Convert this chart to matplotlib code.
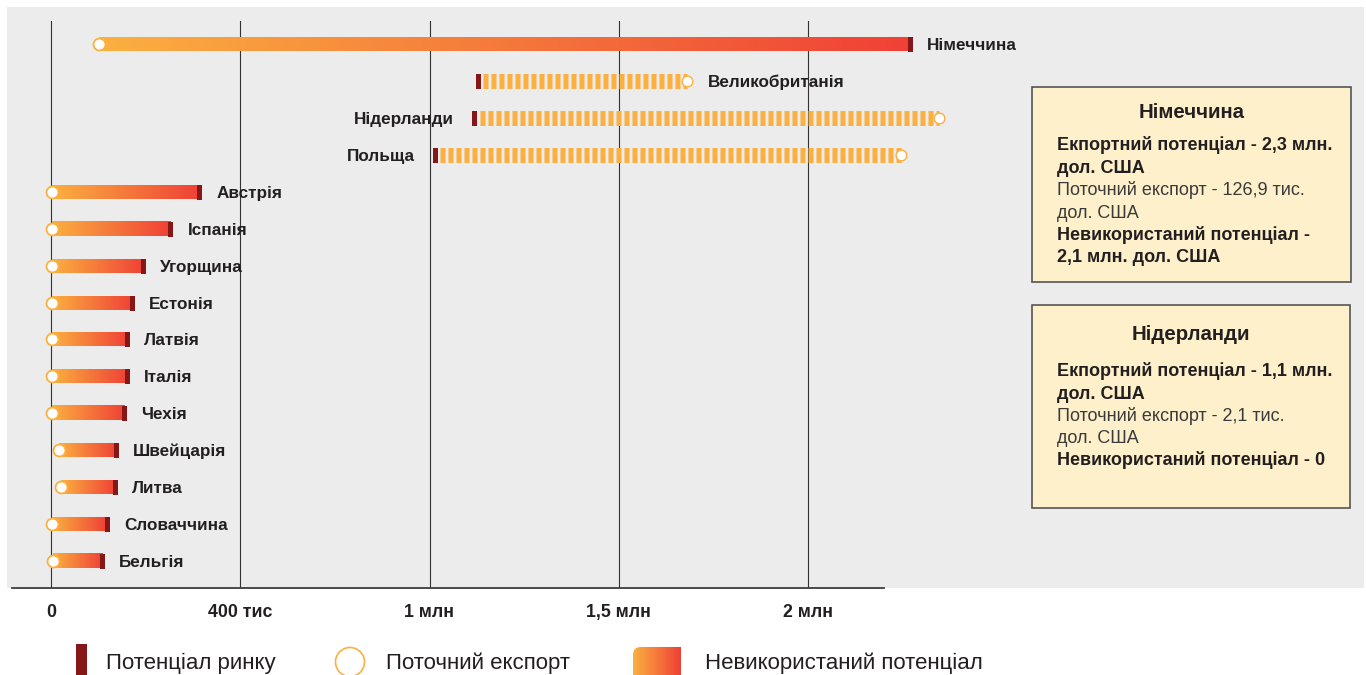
import numpy as np
import matplotlib.pyplot as plt
from matplotlib.colors import LinearSegmentedColormap
from matplotlib.patches import Rectangle, Circle, FancyBboxPatch

plt.rcParams['font.family'] = ['Liberation Sans', 'DejaVu Sans']
plt.rcParams['lines.scale_dashes'] = False

# значення у тис. дол. США
countries = ['Німеччина', 'Великобританія', 'Нідерланди', 'Польща', 'Австрія',
             'Іспанія', 'Угорщина', 'Естонія', 'Латвія', 'Італія', 'Чехія',
             'Швейцарія', 'Литва', 'Словаччина', 'Бельгія']
potential = [2270, 1128, 1118, 1014, 391, 315, 243, 214, 201, 201, 193, 172, 169, 148, 135]
current_export = [126.9, 1681, 2347, 2246, 1, 1, 1, 1, 1, 1, 1, 21, 26, 3, 5]

tick_values = [0, 500, 1000, 1500, 2000]
tick_labels = ['0', '400 тис', '1 млн', '1,5 млн', '2 млн']

legend_labels = ['Потенціал ринку', 'Поточний експорт', 'Невикористаний потенціал']

box_titles = ['Німеччина', 'Нідерланди']
box_texts = [
    ['Екпортний потенціал - 2,3 млн.', 'дол. США',
     'Поточний експорт - 126,9 тис.', 'дол. США',
     'Невикористаний потенціал -', '2,1 млн. дол. США'],
    ['Екпортний потенціал - 1,1 млн.', 'дол. США',
     'Поточний експорт - 2,1 тис.', 'дол. США',
     'Невикористаний потенціал - 0'],
]
box_weights = [
    ['bold', 'bold', 'normal', 'normal', 'bold', 'bold'],
    ['bold', 'bold', 'normal', 'normal', 'bold'],
]

ORANGE = '#fbb040'
RED = '#ef4136'
DARK = '#861719'
TEXT = '#231f20'
BG = '#ebeceb'
BOX = '#fdf0ca'

# розмітка в пікселях
W, H = 1366, 675
AX_L, AX_R, AX_T, AX_B = 12, 884, 21, 588
X0_PX, PX_PER_K = 51.3, 0.3782
ROW0_PX, ROW_PX = 44.3, 36.9

grad = np.linspace(0, 1, 256).reshape(1, -1)
cmap = LinearSegmentedColormap.from_list('unused', [ORANGE, RED])

fig = plt.figure(figsize=(W / 100, H / 100), dpi=100)

# фон, легенда, інфо-блоки (координати в пікселях)
bg = fig.add_axes([0, 0, 1, 1], zorder=0)
bg.set_autoscale_on(False)
bg.set_xlim(0, W)
bg.set_ylim(H, 0)
bg.axis('off')
bg.add_patch(Rectangle((7, 7), 1357, AX_B - 7, color=BG, lw=0))

# основна діаграма
ax = fig.add_axes([AX_L / W, 1 - AX_B / H, (AX_R - AX_L) / W, (AX_B - AX_T) / H], zorder=1)
ax.set_facecolor('none')
kpx = 1 / PX_PER_K
bar_h = 14 / ROW_PX
pot_marker = [(-1, -3), (1, -3), (1, 3), (-1, 3)]
label_kw = dict(textcoords='offset pixels', va='baseline', fontsize=12.3,
                weight='bold', color=TEXT, annotation_clip=False)

for v in tick_values:
    ax.axvline(v, color='#333333', lw=0.8, zorder=1)

for i, (name, p, e) in enumerate(zip(countries, potential, current_export)):
    if e < p:
        ax.imshow(grad, cmap=cmap, extent=(e, p, i + bar_h / 2, i - bar_h / 2),
                  aspect='auto', interpolation='bilinear', zorder=2, clip_on=False)
        ax.plot(e, i, 'o', ms=8.6, mfc='white', mec=ORANGE, mew=1.3, zorder=4, clip_on=False)
    else:
        # експорт перевищує потенціал - штрихова смуга
        ax.plot([p + 2.5 * kpx, e], [i, i], color=ORANGE, lw=10.8,
                linestyle=(3.6, (3.6, 2.16)), zorder=2, clip_on=False)
        ax.plot(e, i, 'o', ms=7.7, mfc='white', mec=ORANGE, mew=1.0, zorder=4, clip_on=False)
    ax.plot(p, i, marker=pot_marker, ms=10.8, color=DARK, mew=0, ls='none',
            zorder=3, clip_on=False)

    # підпис країни
    right_end = max(p, e)
    if e > p and right_end > 2000:
        ax.annotate(name, xy=(p, i), xytext=(-20, -6), ha='right', **label_kw)
    elif e > p:
        ax.annotate(name, xy=(e, i), xytext=(21, -6), ha='left', **label_kw)
    else:
        ax.annotate(name, xy=(p, i), xytext=(17, -6), ha='left', **label_kw)

for v, lbl in zip(tick_values, tick_labels):
    ax.annotate(lbl, xy=(v, 0), xycoords=('data', 'axes fraction'), xytext=(0, -29),
                textcoords='offset pixels', ha='center', va='baseline',
                fontsize=12.8, weight='bold', color=TEXT, annotation_clip=False)

ax.set_xlim((AX_L - X0_PX) / PX_PER_K, (AX_R - X0_PX) / PX_PER_K)
ax.set_ylim((AX_B - ROW0_PX) / ROW_PX, (AX_T - ROW0_PX) / ROW_PX)
ax.set_xticks([])
ax.set_yticks([])
for side in ['top', 'left', 'right']:
    ax.spines[side].set_visible(False)
ax.spines['bottom'].set_color('#3c3c3c')
ax.spines['bottom'].set_linewidth(1.3)

# легенда
bg.add_patch(Rectangle((76, 644), 11, 40, color=DARK, lw=0))
bg.text(106, 669, legend_labels[0], fontsize=16, va='baseline', color=TEXT)
bg.add_patch(Circle((350, 662), 14.5, fc='white', ec=ORANGE, lw=1.2))
bg.text(386, 669, legend_labels[1], fontsize=16, va='baseline', color=TEXT)
im = bg.imshow(grad, cmap=cmap, extent=(633, 681, 684, 647), aspect='auto',
               interpolation='bilinear', zorder=2)
clip = FancyBboxPatch((633, 647), 70, 40, boxstyle='round,pad=0,rounding_size=8',
                      transform=bg.transData)
im.set_clip_path(clip)
bg.text(705, 669, legend_labels[2], fontsize=16, va='baseline', color=TEXT)

# інфо-блоки
boxes = [(1032, 87, 319, 195, 118, 144, 22.4), (1032, 305, 318, 203, 340, 370, 22.2)]
for (bx, by, bw, bh, ty, ly, step), title, lines, weights in zip(boxes, box_titles, box_texts, box_weights):
    bg.add_patch(Rectangle((bx, by), bw, bh, fc=BOX, ec='#555555', lw=1.2, zorder=3))
    bg.text(bx + bw / 2, ty, title, ha='center', va='baseline', fontsize=14.7,
            weight='bold', color=TEXT, zorder=4)
    for k, (line, wt) in enumerate(zip(lines, weights)):
        bg.text(1057, ly + k * step + 6.5, line, ha='left', va='baseline', fontsize=13,
                weight=wt, color=TEXT if wt == 'bold' else '#3a3a3a', zorder=4)

bg.set_xlim(0, W)
bg.set_ylim(H, 0)

fig.savefig('out.png', dpi=100)
